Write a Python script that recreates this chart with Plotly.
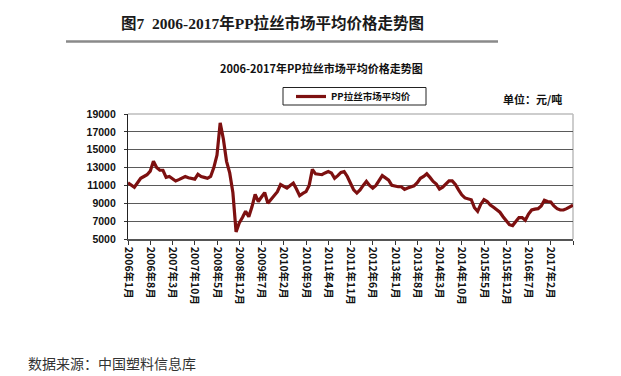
import plotly.graph_objects as go

# ---- data ----
start_year = 2006
n_months = 141  # 2006-01 .. 2017-09
months = []
for k in range(n_months):
    y = start_year + k // 12
    m = k % 12 + 1
    months.append(f"{y}年{m}月")

prices = [
    11300, 11000, 10800, 11300, 11800, 12000, 12200, 12600, 13700, 13000,
    12700, 12700, 11900, 12000, 11700, 11500, 11650, 11800, 12000, 11850,
    11800, 11700, 12250, 12000, 11900, 11800, 12000, 13000, 14400, 18000,
    16200, 13700, 12400, 10200, 5800, 6800, 7400, 8100, 7500, 8600,
    10000, 9200, 9700, 10200, 9000, 9450, 9800, 10300, 11100, 10900,
    10700, 11000, 11250, 10600, 9850, 10100, 10300, 11000, 12800, 12300,
    12250, 12200, 12400, 12550, 12400, 11800, 12100, 12450, 12550, 12000,
    11250, 10500, 10150, 10500, 11000, 11450, 11000, 10700, 11000, 11500,
    12100, 11850, 11600, 11000, 10900, 10850, 10850, 10550, 10700, 10850,
    10950, 11300, 11800, 12000, 12300, 11900, 11450, 11150, 10600, 10800,
    11100, 11500, 11500, 11100, 10500, 9950, 9600, 9500, 9400, 8500,
    8100, 8900, 9400, 9200, 8800, 8550, 8300, 8000, 7500, 7000,
    6600, 6500, 6900, 7400, 7400, 7100, 7800, 8250, 8350, 8400,
    8700, 9350, 9200, 9150, 8700, 8400, 8250, 8250, 8400, 8600,
    8800,
]

y_ticks = [5000, 7000, 9000, 11000, 13000, 15000, 17000, 19000]
y_ticktext = [str(v) for v in y_ticks]
label_step = 7
x_tickvals = list(range(0, n_months, label_step))
x_ticktext = [months[i] if i <= 133 else "" for i in x_tickvals]

series_name = "PP拉丝市场平均价"
main_title = "图7  2006-2017年PP拉丝市场平均价格走势图"
chart_title = "2006-2017年PP拉丝市场平均价格走势图"
unit_text = "单位：元/吨"
source_text = "数据来源：中国塑料信息库"

# ---- layout geometry (pixels) ----
W, H = 621, 376
L, R, T, B = 120, 565, 106, 231
CJK = "Noto Sans CJK SC"
SERIF = "Liberation Serif, Noto Sans CJK SC"


def px(x):
    return (x - L) / (R - L)


def py(y):
    return (B - y) / (B - T)


fig = go.Figure()
fig.add_trace(go.Scatter(
    x=list(range(n_months)), y=prices, mode="lines", name=series_name,
    line=dict(color="#7d1010", width=3.2), customdata=months,
    hovertemplate="%{customdata}: %{y}<extra></extra>",
))

fig.update_layout(
    width=W, height=H,
    margin=dict(l=L, r=W - R, t=T, b=H - B, pad=0),
    paper_bgcolor="white", plot_bgcolor="white",
    showlegend=True,
    legend=dict(
        x=px(283), y=py(88.5), xanchor="left", yanchor="middle",
        bgcolor="rgba(0,0,0,0)", borderwidth=0,
        font=dict(family=CJK, size=9.5, color="#111", weight="bold"),
        itemwidth=30,
    ),
    xaxis=dict(
        range=[0, n_months - 1], tickmode="array",
        tickvals=x_tickvals, ticktext=x_ticktext, tickangle=90,
        ticks="outside", ticklen=4, tickcolor="#333", tickwidth=1,
        showline=True, linecolor="#555", linewidth=1.5,
        showgrid=False, zeroline=False,
        tickfont=dict(family=CJK, size=10.5, color="#111", weight="bold"),
    ),
    yaxis=dict(
        range=[5000, 19000], tickmode="array", tickvals=y_ticks,
        ticktext=y_ticktext,
        ticks="outside", ticklen=3, tickcolor="#333",
        showline=True, linecolor="#222", linewidth=1.2,
        showgrid=True, gridcolor="#5a5a5a", gridwidth=1.3,
        zeroline=False, ticklabelstandoff=6,
        tickfont=dict(family="Liberation Sans, Arial", size=10.5, color="#111", weight="bold"),
    ),
)

shapes = [
    # line under the page title
    dict(type="line", xref="paper", yref="paper", x0=px(58), x1=px(490),
         y0=py(33.5), y1=py(33.5), line=dict(color="#8a8a8a", width=2.5)),
    # light plot-area frame (top and right)
    dict(type="line", xref="paper", yref="paper", x0=0, x1=1, y0=1, y1=1,
         line=dict(color="#bdbdbd", width=1.5), layer="between"),
    dict(type="line", xref="paper", yref="paper", x0=1, x1=1, y0=0, y1=1,
         line=dict(color="#bdbdbd", width=1.5), layer="between"),
    # legend frame
    dict(type="rect", xref="paper", yref="paper", x0=px(275), x1=px(418),
         y0=py(97), y1=py(79.5), line=dict(color="#222", width=1)),
]
fig.update_layout(shapes=shapes)

annotations = [
    dict(text=main_title, x=px(264), y=py(15), xanchor="center", yanchor="middle",
         font=dict(family=SERIF, size=15.5, color="#1a1a1a", weight="bold")),
    dict(text=chart_title, x=px(313), y=py(60), xanchor="center", yanchor="middle",
         font=dict(family=CJK, size=11, color="#111", weight="bold")),
    dict(text=unit_text, x=px(493), y=py(91.5), xanchor="left", yanchor="middle",
         font=dict(family=CJK, size=11, color="#111", weight="bold")),
    dict(text=source_text, x=px(18), y=py(355), xanchor="left", yanchor="middle",
         font=dict(family=CJK, size=14, color="#333")),
]
for a in annotations:
    a.update(xref="paper", yref="paper", showarrow=False)
fig.update_layout(annotations=annotations)

fig.write_html("out.html")
